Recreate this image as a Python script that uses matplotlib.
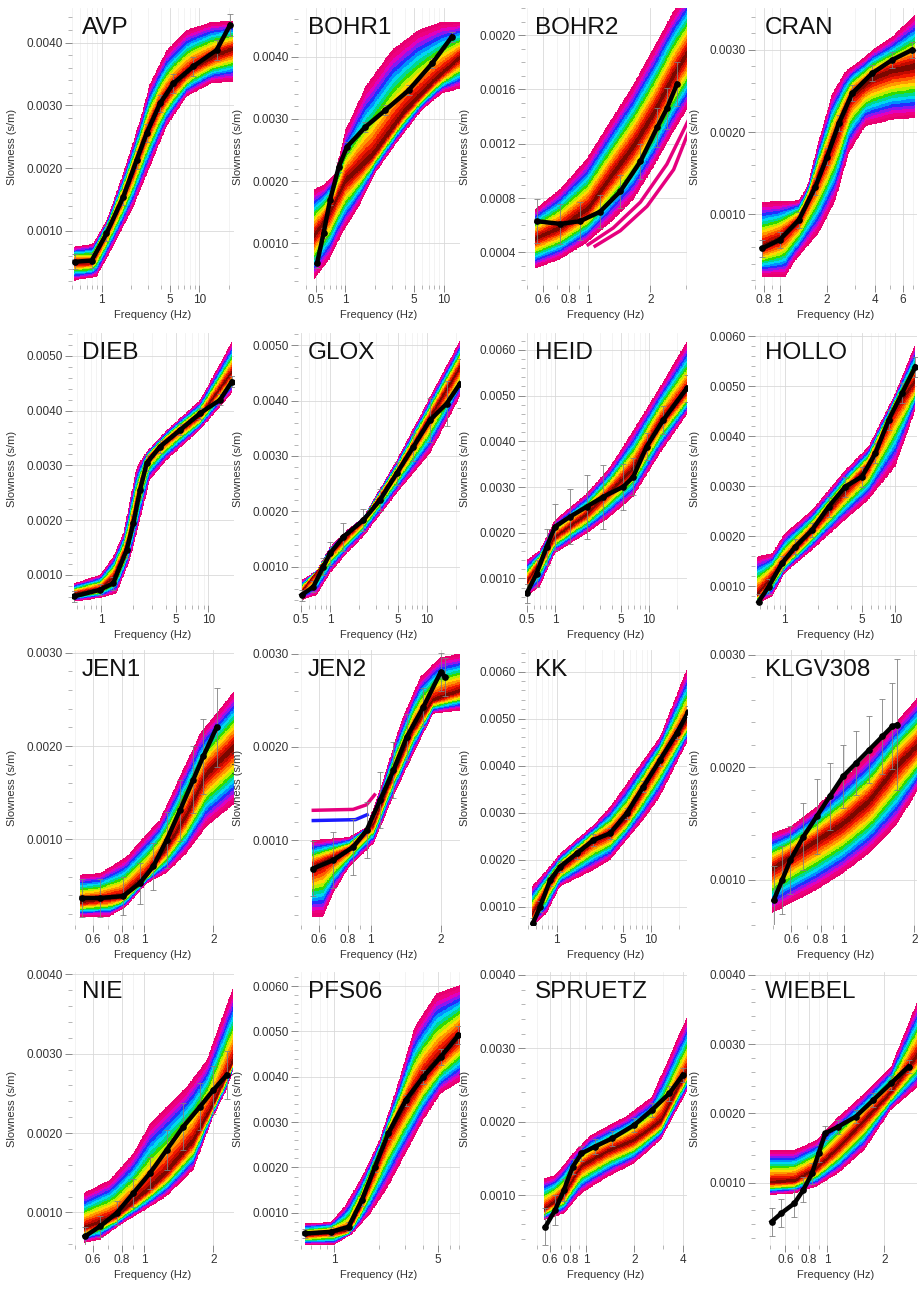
import numpy as np
import matplotlib
matplotlib.use('Agg')
import matplotlib.pyplot as plt
from matplotlib.colors import ListedColormap
from matplotlib.ticker import LogLocator, MultipleLocator, NullFormatter

plt.rcParams['font.family'] = ['Liberation Sans', 'DejaVu Sans']

# ---- measured dispersion curves (frequency Hz, slowness s/m, error) and model envelopes ----
avp_freq = [0.53, 0.79, 1.12, 1.66, 2.28, 2.89, 3.95, 5.41, 8.66, 15.0, 20.6]
avp_slow = [0.00051, 0.00053, 0.00096, 0.00154, 0.00213, 0.00256, 0.00303, 0.00335, 0.00362, 0.00388, 0.00428]
avp_err = [0.00012, 0.00012, 0.00012, 0.00013, 0.00014, 0.00014, 0.00014, 0.00015, 0.00015, 0.00016, 0.00018]
avp_hi_freq = [0.52, 0.82, 1.12, 1.66, 2.47, 3.12, 4.62, 7.4, 13.3, 22]
avp_hi = [0.00075, 0.0008, 0.00117, 0.00192, 0.00277, 0.00335, 0.00388, 0.0042, 0.00433, 0.00434]
avp_lo_freq = [0.52, 0.89, 1.31, 2.11, 3.12, 4.62, 7.4, 13.3, 22]
avp_lo = [0.00021, 0.00027, 0.00075, 0.00138, 0.00202, 0.00266, 0.00314, 0.00335, 0.00338]
avp_mid_freq = [0.52, 0.79, 1.12, 1.66, 2.28, 2.89, 3.95, 5.41, 8.66, 15, 22]
avp_mid = [0.0005, 0.0005, 0.00096, 0.00154, 0.0021, 0.00256, 0.003, 0.0033, 0.0036, 0.0038, 0.0039]

bohr1_freq = [0.515, 0.60, 0.70, 0.857, 1.04, 1.6, 2.55, 4.4, 7.6, 12.1]
bohr1_slow = [0.00068, 0.00116, 0.0017, 0.00223, 0.00255, 0.00287, 0.00314, 0.00346, 0.00389, 0.00432]
bohr1_err = [0.00008] * 10
bohr1_hi_freq = [0.477, 0.6, 0.79, 1.0, 1.6, 2.98, 5.57, 9.6, 15]
bohr1_hi = [0.00186, 0.00194, 0.00213, 0.00282, 0.00352, 0.00411, 0.00443, 0.00456, 0.00456]
bohr1_lo_freq = [0.477, 0.68, 0.93, 1.37, 2.02, 3.49, 6.0, 9.6, 15]
bohr1_lo = [0.00041, 0.00073, 0.00116, 0.00159, 0.00213, 0.00266, 0.00314, 0.00341, 0.00349]
bohr1_mid_freq = [0.477, 0.7, 1.0, 1.9, 4.0, 8.0, 15]
bohr1_mid = [0.0011, 0.0015, 0.0020, 0.0024, 0.0031, 0.0036, 0.0040]

bohr2_freq = [0.56, 0.73, 0.91, 1.14, 1.43, 1.79, 2.16, 2.41, 2.70]
bohr2_slow = [0.00063, 0.00061, 0.00063, 0.00070, 0.00085, 0.00107, 0.00132, 0.00146, 0.00164]
bohr2_err = [0.00016, 0.00015, 0.00014, 0.00012, 0.00012, 0.00013, 0.00014, 0.00015, 0.00016]
bohr2_hi_freq = [0.55, 0.73, 0.98, 1.28, 1.66, 2.08, 2.60, 3.13]
bohr2_hi = [0.00072, 0.00087, 0.00109, 0.00137, 0.00164, 0.00191, 0.00218, 0.00236]
bohr2_lo_freq = [0.55, 0.73, 0.98, 1.28, 1.66, 2.08, 2.60, 3.13]
bohr2_lo = [0.00028, 0.00035, 0.00047, 0.00062, 0.00079, 0.00103, 0.00129, 0.00149]
bohr2_mid_freq = [0.55, 0.73, 1.0, 1.28, 1.66, 2.08, 2.6, 3.13]
bohr2_mid = [0.0005, 0.00058, 0.00072, 0.00095, 0.00118, 0.00142, 0.0017, 0.0019]
bohr2_out1_freq = [0.98, 1.32, 1.79, 2.41, 3.13]
bohr2_out1 = [0.00045, 0.00058, 0.00077, 0.00105, 0.0014]
bohr2_out2_freq = [1.06, 1.43, 1.93, 2.6, 3.13]
bohr2_out2 = [0.00044, 0.00056, 0.00074, 0.00101, 0.00132]

cran_freq = [0.777, 1.0, 1.325, 1.688, 2.0, 2.37, 2.88, 3.85, 5.15, 6.88]
cran_slow = [0.000586, 0.000688, 0.000931, 0.001337, 0.001702, 0.002108, 0.002473, 0.002716, 0.002878, 0.0030]
cran_err = [0.0001] * 10
cran_hi_freq = [0.777, 1.325, 1.495, 1.77, 2.15, 2.61, 3.49, 3.85, 5.15, 7.17]
cran_hi = [0.00115, 0.00117, 0.00134, 0.0019, 0.00247, 0.00274, 0.00292, 0.0030, 0.00316, 0.00343]
cran_lo_freq = [0.777, 1.09, 1.26, 1.77, 2.26, 2.74, 3.49, 5.15, 7.17]
cran_lo = [0.00024, 0.00024, 0.00044, 0.00077, 0.00117, 0.00174, 0.00207, 0.00215, 0.00217]
cran_mid_freq = [0.777, 1.0, 1.325, 2.0, 2.88, 3.85, 5.15, 7.17]
cran_mid = [0.0006, 0.0007, 0.00093, 0.0017, 0.00245, 0.00265, 0.00275, 0.0028]

dieb_freq = [0.56, 0.979, 1.30, 1.734, 2.0, 2.31, 2.66, 3.55, 5.45, 8.36, 12.8, 16.5]
dieb_slow = [0.000606, 0.000727, 0.000849, 0.001458, 0.001945, 0.002553, 0.00304, 0.003345, 0.003649, 0.003953, 0.004197, 0.004531]
dieb_err = [0.0001, 0.0001, 0.00012, 0.00015, 0.00015, 0.00015, 0.00015, 0.00012, 0.0001, 0.0001, 0.0001, 0.0001]
dieb_hi_freq = [0.56, 0.979, 1.30, 1.61, 1.86, 2.15, 2.66, 4.1, 8.36, 16.5]
dieb_hi = [0.000849, 0.001001, 0.001336, 0.001762, 0.002371, 0.002979, 0.003253, 0.003649, 0.004197, 0.005262]
dieb_lo_freq = [0.56, 0.979, 1.4, 1.86, 2.31, 2.86, 4.1, 8.36, 16.5]
dieb_lo = [0.000514, 0.000575, 0.000666, 0.001275, 0.002006, 0.002736, 0.003101, 0.003649, 0.004318]
dieb_mid_freq = [0.56, 0.979, 1.3, 1.734, 2.0, 2.31, 2.66, 3.55, 5.45, 8.36, 16.5]
dieb_mid = [0.00065, 0.00075, 0.00095, 0.0015, 0.00205, 0.0026, 0.0031, 0.00336, 0.00365, 0.0039, 0.0047]

glox_freq = [0.509, 0.672, 0.853, 1.0, 1.374, 2.21, 3.29, 4.89, 7.28, 10.8, 16.1, 22.1]
glox_slow = [0.000489, 0.000639, 0.001, 0.001241, 0.001541, 0.001842, 0.002203, 0.002684, 0.003165, 0.003647, 0.003947, 0.004308]
glox_err = [0.0001, 0.0001, 0.00015, 0.0002, 0.00025, 0.0002, 0.0002, 0.0002, 0.00025, 0.0004, 0.0004, 0.00045]
glox_hi_freq = [0.509, 0.73, 1.0, 1.49, 2.21, 4.89, 10.8, 22.1]
glox_hi = [0.000759, 0.00094, 0.001361, 0.001662, 0.001902, 0.002925, 0.004068, 0.00509]
glox_lo_freq = [0.509, 0.73, 1.0, 1.49, 2.21, 4.89, 10.8, 22.1]
glox_lo = [0.0004, 0.000489, 0.00088, 0.001241, 0.001541, 0.002323, 0.003045, 0.004068]
glox_mid_freq = [0.509, 1.0, 2.21, 4.89, 10.8, 22.1]
glox_mid = [0.00055, 0.00125, 0.00185, 0.0027, 0.0037, 0.0046]

heid_freq = [0.4995, 0.638, 0.815, 1.0, 1.444, 2.17, 3.27, 5.33, 6.81, 9.44, 14.2, 25.2]
heid_slow = [0.000672, 0.001109, 0.001693, 0.002131, 0.00235, 0.002569, 0.002788, 0.003007, 0.003226, 0.003883, 0.004467, 0.005161]
heid_err = [0.0002, 0.0003, 0.0004, 0.0005, 0.0006, 0.0007, 0.0007, 0.0005, 0.0004, 0.0003, 0.0003, 0.0003]
heid_hi_freq = [0.4995, 0.69, 1.0, 2.17, 3.85, 6.81, 13.1, 25.2]
heid_hi = [0.001401, 0.00162, 0.002277, 0.002861, 0.003445, 0.004248, 0.005197, 0.006182]
heid_lo_freq = [0.4995, 0.69, 1.0, 2.17, 3.85, 6.81, 13.1, 25.2]
heid_lo = [0.000599, 0.000818, 0.001547, 0.001985, 0.00235, 0.002788, 0.003737, 0.004577]
heid_mid_freq = [0.4995, 1.0, 2.17, 3.85, 6.81, 13.1, 25.2]
heid_mid = [0.0009, 0.0019, 0.0024, 0.0029, 0.0034, 0.0044, 0.0051]

hollo_freq = [0.582, 0.717, 0.946, 1.249, 1.766, 2.50, 3.53, 5.0, 6.6, 8.7, 11.5, 15.2]
hollo_slow = [0.000686, 0.000987, 0.001455, 0.001789, 0.002123, 0.002591, 0.002992, 0.003193, 0.00366, 0.004329, 0.004864, 0.005398]
hollo_err = [0.00015, 0.00015, 0.00015, 0.00015, 0.00015, 0.0002, 0.0002, 0.0002, 0.0002, 0.0002, 0.0002, 0.0002]
hollo_hi_freq = [0.56, 0.77, 1.0, 1.77, 3.53, 5.7, 10, 15.2]
hollo_hi = [0.001588, 0.001655, 0.002056, 0.002524, 0.003326, 0.003794, 0.004864, 0.005866]
hollo_lo_freq = [0.56, 0.77, 1.0, 1.77, 3.53, 5.7, 10, 15.2]
hollo_lo = [0.000652, 0.000786, 0.001254, 0.001722, 0.002324, 0.002725, 0.003393, 0.004529]
hollo_mid_freq = [0.56, 1.0, 1.77, 3.53, 5.7, 10, 15.2]
hollo_mid = [0.0008, 0.0015, 0.0021, 0.0029, 0.0034, 0.0046, 0.0051]

jen1_freq = [0.536, 0.644, 0.813, 0.961, 1.098, 1.254, 1.433, 1.638, 1.81, 2.068]
jen1_slow = [0.00037, 0.00037, 0.00039, 0.00053, 0.00071, 0.00099, 0.00131, 0.00164, 0.00189, 0.0022]
jen1_err = [0.0002, 0.0002, 0.0002, 0.00022, 0.00025, 0.0003, 0.00033, 0.00036, 0.0004, 0.00042]
jen1_hi_freq = [0.527, 0.644, 0.84, 1.03, 1.17, 1.43, 1.75, 2.48]
jen1_hi = [0.000618, 0.000636, 0.000814, 0.001064, 0.001207, 0.001671, 0.002136, 0.0026]
jen1_lo_freq = [0.527, 0.71, 0.84, 1.03, 1.25, 1.53, 1.87, 2.48]
jen1_lo = [0.000171, 0.000171, 0.000279, 0.000529, 0.000636, 0.00085, 0.001136, 0.001386]
jen1_mid_freq = [0.527, 0.8, 1.03, 1.25, 1.53, 1.87, 2.48]
jen1_mid = [0.00032, 0.00038, 0.00062, 0.0009, 0.00125, 0.0017, 0.002]

jen2_freq = [0.567, 0.691, 0.842, 0.961, 1.097, 1.252, 1.428, 1.684, 2.0, 2.087]
jen2_slow = [0.000696, 0.000786, 0.000929, 0.001107, 0.001429, 0.00175, 0.002107, 0.002429, 0.002804, 0.00275]
jen2_err = [0.0003, 0.0003, 0.0003, 0.0003, 0.0003, 0.0003, 0.00025, 0.0002, 0.0002, 0.0002]
jen2_hi_freq = [0.557, 0.81, 0.96, 1.13, 1.34, 1.63, 1.99, 2.42]
jen2_hi = [0.001, 0.001036, 0.001143, 0.001643, 0.00225, 0.00275, 0.002964, 0.003]
jen2_lo_freq = [0.557, 0.626, 0.69, 0.81, 1.03, 1.25, 1.53, 1.86, 2.42]
jen2_lo = [0.000179, 0.000179, 0.000429, 0.000714, 0.000964, 0.001464, 0.001929, 0.002357, 0.002393]
jen2_mid_freq = [0.557, 0.81, 1.03, 1.25, 1.53, 1.86, 2.42]
jen2_mid = [0.0007, 0.0009, 0.00118, 0.0017, 0.0022, 0.0025, 0.0026]
jen2_out1_freq = [0.557, 0.84, 0.96, 1.05]
jen2_out1 = [0.00132, 0.00133, 0.00138, 0.0015]
jen2_out2_freq = [0.557, 0.86, 0.98]
jen2_out2 = [0.00121, 0.00122, 0.00128]

kk_freq = [0.557, 0.666, 0.85, 1.085, 1.63, 2.447, 3.677, 5.52, 8.29, 12.46, 18.7, 24.9]
kk_slow = [0.000645, 0.001, 0.001567, 0.001851, 0.002135, 0.002418, 0.00256, 0.002986, 0.003553, 0.004121, 0.004688, 0.005149]
kk_err = [0.00012] * 12
kk_hi_freq = [0.54, 0.78, 1.085, 2.447, 3.677, 8.29, 12.46, 24.9]
kk_hi = [0.001426, 0.00178, 0.002135, 0.002738, 0.003128, 0.004121, 0.004617, 0.006142]
kk_lo_freq = [0.54, 0.78, 1.085, 2.447, 3.677, 8.29, 12.46, 24.9]
kk_lo = [0.000574, 0.000858, 0.001426, 0.00178, 0.001993, 0.002844, 0.00334, 0.004546]
kk_mid_freq = [0.54, 0.85, 1.085, 2.447, 3.677, 5.52, 8.29, 12.46, 24.9]
kk_mid = [0.0008, 0.0015, 0.0018, 0.0024, 0.00255, 0.0029, 0.0035, 0.0041, 0.005]

klgv_freq = [0.505, 0.548, 0.594, 0.675, 0.768, 0.873, 0.994, 1.13, 1.286, 1.462, 1.61, 1.69]
klgv_slow = [0.000822, 0.001, 0.001178, 0.001385, 0.001563, 0.001741, 0.001919, 0.002037, 0.002156, 0.002274, 0.002363, 0.002378]
klgv_err = [0.0003, 0.0003, 0.0003, 0.0003, 0.00033, 0.0003, 0.00028, 0.00028, 0.0003, 0.00033, 0.00038, 0.00058]
klgv_hi_freq = [0.497, 0.594, 0.768, 0.994, 1.286, 1.66, 2.08]
klgv_hi = [0.001415, 0.001474, 0.001652, 0.001889, 0.002126, 0.002393, 0.00263]
klgv_lo_freq = [0.497, 0.594, 0.768, 0.994, 1.286, 1.66, 2.08]
klgv_lo = [0.000704, 0.000793, 0.000911, 0.001059, 0.001237, 0.001474, 0.0018]
klgv_mid_freq = [0.497, 0.768, 0.994, 1.286, 1.66, 2.08]
klgv_mid = [0.0011, 0.00135, 0.0015, 0.0017, 0.002, 0.0022]

nie_freq = [0.554, 0.644, 0.761, 0.899, 1.062, 1.254, 1.482, 1.751, 2.0, 2.285]
nie_slow = [0.000699, 0.000824, 0.000992, 0.001243, 0.001495, 0.001788, 0.002081, 0.002333, 0.002542, 0.002731]
nie_err = [0.00012, 0.00013, 0.00015, 0.00018, 0.0002, 0.00025, 0.0003, 0.0003, 0.0003, 0.0003]
nie_hi_freq = [0.547, 0.71, 0.899, 1.062, 1.254, 1.53, 1.87, 2.44]
nie_hi = [0.001243, 0.001411, 0.001746, 0.002123, 0.002333, 0.002584, 0.002919, 0.003841]
nie_lo_freq = [0.547, 0.644, 0.81, 0.96, 1.254, 1.64, 2.0, 2.285, 2.44]
nie_lo = [0.000615, 0.000657, 0.000866, 0.000992, 0.001202, 0.001537, 0.002207, 0.002542, 0.002793]
nie_mid_freq = [0.547, 0.76, 1.062, 1.254, 1.64, 2.0, 2.44]
nie_mid = [0.0008, 0.00095, 0.0013, 0.0015, 0.0019, 0.00235, 0.0029]

pfs_freq = [0.633, 0.953, 1.252, 1.537, 1.886, 2.314, 3.04, 3.995, 5.245, 6.89]
pfs_slow = [0.000544, 0.000581, 0.000691, 0.001279, 0.002015, 0.00275, 0.003485, 0.004, 0.004441, 0.004919]
pfs_err = [0.0001, 0.0001, 0.0001, 0.00012, 0.00012, 0.00012, 0.00012, 0.00015, 0.00018, 0.0002]
pfs_hi_freq = [0.633, 0.953, 1.17, 1.537, 2.02, 2.65, 3.49, 4.9, 7.06]
pfs_hi = [0.000765, 0.000801, 0.001132, 0.001794, 0.002603, 0.003779, 0.005103, 0.005838, 0.006022]
pfs_lo_freq = [0.633, 1.0, 1.34, 1.76, 2.314, 3.04, 3.995, 5.245, 7.06]
pfs_lo = [0.000287, 0.000287, 0.000544, 0.000985, 0.001574, 0.002309, 0.003044, 0.003632, 0.00389]
pfs_mid_freq = [0.633, 1.252, 1.537, 2.314, 3.04, 3.995, 5.245, 7.06]
pfs_mid = [0.0005, 0.0006, 0.0012, 0.0027, 0.0034, 0.004, 0.00445, 0.0049]

spr_freq = [0.56, 0.643, 0.73, 0.828, 0.939, 1.134, 1.459, 2.0, 2.574, 3.31, 4.0]
spr_slow = [0.000568, 0.000795, 0.001068, 0.001386, 0.001568, 0.001659, 0.001773, 0.001955, 0.002159, 0.002386, 0.002636]
spr_err = [0.00025, 0.0002, 0.00015, 0.0001, 0.0001, 0.0001, 0.0001, 0.0001, 0.0001, 0.0001, 0.0001]
spr_hi_freq = [0.55, 0.643, 0.828, 1.07, 1.76, 2.574, 4.3]
spr_hi = [0.001227, 0.001273, 0.001568, 0.001818, 0.002068, 0.002341, 0.003455]
spr_lo_freq = [0.55, 0.73, 0.939, 1.37, 2.0, 2.92, 4.3]
spr_lo = [0.000659, 0.00075, 0.001023, 0.00125, 0.001432, 0.00175, 0.002432]
spr_mid_freq = [0.55, 0.73, 0.939, 1.37, 2.0, 2.92, 4.3]
spr_mid = [0.0008, 0.001, 0.0014, 0.0016, 0.00175, 0.002, 0.0027]

wie_freq = [0.508, 0.571, 0.67, 0.746, 0.83, 0.899, 0.974, 1.143, 1.414, 1.75, 2.166, 2.68]
wie_slow = [0.000437, 0.000558, 0.000702, 0.000895, 0.001135, 0.001424, 0.001713, 0.001809, 0.001954, 0.002194, 0.002435, 0.002676]
wie_err = [0.0002, 0.0002, 0.0002, 0.00018, 0.00015, 0.00012, 0.0001, 0.0001, 0.0001, 0.0001, 0.0001, 0.0001]
wie_hi_freq = [0.5, 0.67, 0.875, 1.143, 1.57, 2.166, 3.1]
wie_hi = [0.001472, 0.001472, 0.001617, 0.001954, 0.002291, 0.002676, 0.003735]
wie_lo_freq = [0.5, 0.67, 0.875, 1.143, 1.57, 2.166, 3.1]
wie_lo = [0.000822, 0.000846, 0.000943, 0.001135, 0.001472, 0.00205, 0.002411]
wie_mid_freq = [0.5, 0.67, 0.875, 1.143, 1.57, 2.166, 3.1]
wie_mid = [0.001, 0.00102, 0.0012, 0.0015, 0.0019, 0.0023, 0.0029]

# site name, curve data, axis limits, labelled frequencies, y tick step
panels = [
    ('AVP', avp_freq, avp_slow, avp_err, avp_hi_freq, avp_hi, avp_lo_freq, avp_lo, avp_mid_freq, avp_mid,
     (0.497, 22.6), (0.00014, 0.00455), [1, 5, 10], 0.001),
    ('BOHR1', bohr1_freq, bohr1_slow, bohr1_err, bohr1_hi_freq, bohr1_hi, bohr1_lo_freq, bohr1_lo, bohr1_mid_freq, bohr1_mid,
     (0.33, 14.6), (0.00033, 0.00478), [0.5, 1, 5, 10], 0.001),
    ('BOHR2', bohr2_freq, bohr2_slow, bohr2_err, bohr2_hi_freq, bohr2_hi, bohr2_lo_freq, bohr2_lo, bohr2_mid_freq, bohr2_mid,
     (0.491, 3.02), (0.00016, 0.0022), [0.6, 0.8, 1, 2], 0.0004),
    ('CRAN', cran_freq, cran_slow, cran_err, cran_hi_freq, cran_hi, cran_lo_freq, cran_lo, cran_mid_freq, cran_mid,
     (0.70, 7.4), (0.00014, 0.00351), [0.8, 1, 2, 4, 6], 0.001),
    ('DIEB', dieb_freq, dieb_slow, dieb_err, dieb_hi_freq, dieb_hi, dieb_lo_freq, dieb_lo, dieb_mid_freq, dieb_mid,
     (0.537, 17.3), (0.00045, 0.00542), [1, 5, 10], 0.001),
    ('GLOX', glox_freq, glox_slow, glox_err, glox_hi_freq, glox_hi, glox_lo_freq, glox_lo, glox_mid_freq, glox_mid,
     (0.467, 22.1), (0.00031, 0.00522), [0.5, 1, 5, 10], 0.001),
    ('HEID', heid_freq, heid_slow, heid_err, heid_hi_freq, heid_hi, heid_lo_freq, heid_lo, heid_mid_freq, heid_mid,
     (0.48, 25.4), (0.00042, 0.00637), [0.5, 1, 5, 10], 0.001),
    ('HOLLO', hollo_freq, hollo_slow, hollo_err, hollo_hi_freq, hollo_hi, hollo_lo_freq, hollo_lo, hollo_mid_freq, hollo_mid,
     (0.54, 15.7), (0.00062, 0.00607), [1, 5, 10], 0.001),
    ('JEN1', jen1_freq, jen1_slow, jen1_err, jen1_hi_freq, jen1_hi, jen1_lo_freq, jen1_lo, jen1_mid_freq, jen1_mid,
     (0.487, 2.46), (0.00008, 0.00303), [0.6, 0.8, 1, 2], 0.001),
    ('JEN2', jen2_freq, jen2_slow, jen2_err, jen2_hi_freq, jen2_hi, jen2_lo_freq, jen2_lo, jen2_mid_freq, jen2_mid,
     (0.487, 2.42), (0.00009, 0.00304), [0.6, 0.8, 1, 2], 0.001),
    ('KK', kk_freq, kk_slow, kk_err, kk_hi_freq, kk_hi, kk_lo_freq, kk_lo, kk_mid_freq, kk_mid,
     (0.46, 24.1), (0.00061, 0.00646), [1, 5, 10], 0.001),
    ('KLGV308', klgv_freq, klgv_slow, klgv_err, klgv_hi_freq, klgv_hi, klgv_lo_freq, klgv_lo, klgv_mid_freq, klgv_mid,
     (0.42, 2.05), (0.0006, 0.00304), [0.6, 0.8, 1, 2], 0.001),
    ('NIE', nie_freq, nie_slow, nie_err, nie_hi_freq, nie_hi, nie_lo_freq, nie_lo, nie_mid_freq, nie_mid,
     (0.487, 2.46), (0.00059, 0.00403), [0.6, 0.8, 1, 2], 0.001),
    ('PFS06', pfs_freq, pfs_slow, pfs_err, pfs_hi_freq, pfs_hi, pfs_lo_freq, pfs_lo, pfs_mid_freq, pfs_mid,
     (0.571, 7.06), (0.00029, 0.00631), [1, 5], 0.001),
    ('SPRUETZ', spr_freq, spr_slow, spr_err, spr_hi_freq, spr_hi, spr_lo_freq, spr_lo, spr_mid_freq, spr_mid,
     (0.418, 4.26), (0.00032, 0.00404), [0.6, 0.8, 1, 2, 4], 0.001),
    ('WIEBEL', wie_freq, wie_slow, wie_err, wie_hi_freq, wie_hi, wie_lo_freq, wie_lo, wie_mid_freq, wie_mid,
     (0.415, 2.97), (0.0001, 0.00404), [0.6, 0.8, 1, 2], 0.001),
]

# single stray models drawn outside the main bundle
stray_curves = {
    'BOHR2': [(bohr2_out1_freq, bohr2_out1, '#e6007e'), (bohr2_out2_freq, bohr2_out2, '#e6007e')],
    'JEN2': [(jen2_out1_freq, jen2_out1, '#e6007e'), (jen2_out2_freq, jen2_out2, '#1a1aff')],
}

# misfit colours, from best model (centre of the bundle) to worst (outer edge)
band_colors = ['#7a0800', '#c00a00', '#f01800', '#ff5a00', '#ff9a00', '#ffd800',
               '#b8f000', '#30dc00', '#00d890', '#00d8f0', '#0090ff', '#2030ff',
               '#8a18f0', '#e000c0', '#ee0080', '#e80070']
band_cmap = ListedColormap(band_colors)


def draw_band(ax, hi_f, hi_s, lo_f, lo_s, mid_f, mid_s, ylim):
    f0 = max(hi_f[0], lo_f[0])
    f1 = min(hi_f[-1], lo_f[-1])
    xe = np.logspace(np.log10(f0), np.log10(f1), 281)
    ye = np.linspace(ylim[0], ylim[1], 501)
    lx = np.log10(np.sqrt(xe[:-1] * xe[1:]))
    yc = 0.5 * (ye[:-1] + ye[1:])
    hi = np.interp(lx, np.log10(hi_f), hi_s)
    lo = np.interp(lx, np.log10(lo_f), lo_s)
    mid = np.interp(lx, np.log10(mid_f), mid_s)
    mid = np.clip(mid, lo + 0.06 * (hi - lo), hi - 0.06 * (hi - lo))
    Y = yc[:, None]
    t = np.where(Y >= mid, (Y - mid) / (hi - mid), (mid - Y) / (mid - lo))
    t = np.ma.masked_where((Y < lo) | (Y > hi), t)
    ax.pcolormesh(xe, ye, t, cmap=band_cmap, vmin=0, vmax=1, shading='flat',
                  edgecolors='none', linewidth=0, antialiased=False, zorder=1)


fig = plt.figure(figsize=(9.19, 12.92), dpi=100)
W, H = 919.0, 1292.0
col_left = [72, 298, 525, 755]
row_span = [(8, 285), (333, 605), (650, 925), (972, 1245)]
ax_w = 162

for i, p in enumerate(panels):
    (name, fr, sl, er, hf, hs, lf, ls, mf, ms, xlim, ylim, xt, ystep) = p
    r, c = divmod(i, 4)
    top, bot = row_span[r]
    ax = fig.add_axes([col_left[c] / W, 1 - bot / H, ax_w / W, (bot - top) / H])
    ax.set_xscale('log')
    ax.set_axisbelow(True)

    ax.grid(True, which='major', color='#d9d9d9', lw=0.6)
    ax.grid(True, which='minor', axis='x', color='#eeeeee', lw=0.5)

    draw_band(ax, hf, hs, lf, ls, mf, ms, ylim)
    for sf, ss, col in stray_curves.get(name, []):
        ax.plot(sf, ss, color=col, lw=2.5, zorder=2, solid_capstyle='butt')

    ax.errorbar(fr, sl, yerr=er, fmt='none', ecolor='#808080', elinewidth=0.7,
                capsize=2.5, capthick=0.7, alpha=0.85, zorder=3)
    ax.plot(fr, sl, color='black', lw=3.2, marker='o', ms=3.8, zorder=4)

    ax.set_xlim(*xlim)
    ax.set_ylim(*ylim)
    ax.set_xticks(xt, labels=['%g' % v for v in xt])
    ax.xaxis.set_minor_locator(LogLocator(base=10, subs=np.arange(2, 10)))
    ax.xaxis.set_minor_formatter(NullFormatter())
    ax.yaxis.set_major_locator(MultipleLocator(ystep))
    ax.yaxis.set_minor_locator(MultipleLocator(ystep / 4 if ystep < 0.001 else ystep / 5))
    ax.yaxis.set_major_formatter(plt.FormatStrFormatter('%.4f'))

    for s in ax.spines.values():
        s.set_visible(False)
    ax.tick_params(axis='both', which='major', length=5, width=0.6, color='#777777',
                   labelsize=8.5, labelcolor='#333333', pad=1.5)
    ax.tick_params(axis='both', which='minor', length=3, width=0.5, color='#999999')

    ax.set_xlabel('Frequency (Hz)', fontsize=8, color='#333333', labelpad=3)
    ax.set_ylabel('Slowness (s/m)', fontsize=8, color='#333333')
    ax.yaxis.set_label_coords(-55 / ax_w, 0.5)

    ax.text(0.06, 0.968, name, transform=ax.transAxes, fontsize=17.5,
            ha='left', va='top', color='#111111', zorder=5)

fig.savefig('out.png', dpi=100)
